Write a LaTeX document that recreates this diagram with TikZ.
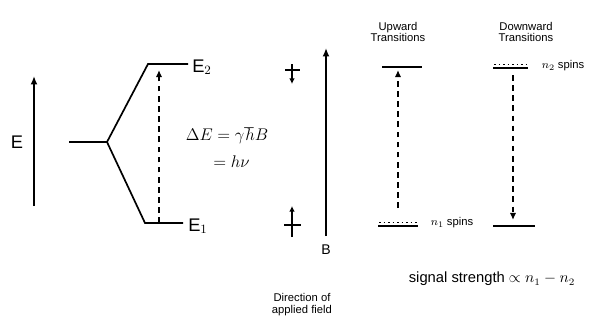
\documentclass[tikz,border=0pt]{standalone}
\usepackage{fontspec}
\setmainfont{Liberation Sans}
\usetikzlibrary{arrows.meta}
\tikzset{
    levelline/.style={line width=1.2pt},
    dotlevel/.style={line width=1.2pt, dotted},
    trans/.style={line width=1.2pt, dash pattern=on 4pt off 3.2pt, -{Latex[length=5pt,width=4.5pt]}},
    field/.style={line width=1.2pt, -{Latex[length=6pt,width=5pt]}},
    spinarr/.style={line width=1.4pt, -{Latex[length=4pt,width=4pt]}},
    smalltext/.style={font=\fontsize{8}{8.5}\selectfont, align=center, inner sep=0pt},
    bigtext/.style={font=\fontsize{13}{14}\selectfont, inner sep=0pt}
}
\begin{document}
\begin{tikzpicture}[x=0.025cm, y=-0.025cm]
    \useasboundingbox (0,0) rectangle (610,329);

    % Left diagram: splitting of the level
    \begin{scope}
        \coordinate (ebot) at (34,206);
        \coordinate (etop) at (34,76);
        \draw[field] (ebot) -- (etop);
        \node[bigtext] (elab) at (17,142) {E};

        \coordinate (lvl0) at (69,142);
        \coordinate (fork) at (107,142);
        \coordinate (up0) at (148,64);
        \coordinate (up1) at (188,64);
        \coordinate (lo0) at (145,223);
        \coordinate (lo1) at (183,223);
        \draw[levelline] (lvl0) -- (fork) -- (up0) -- (up1);
        \draw[levelline] (fork) -- (lo0) -- (lo1);
        \node[bigtext, anchor=west] (etwo) at (192,67) {E$_2$};
        \node[bigtext, anchor=west] (eone) at (188,226) {E$_1$};

        \coordinate (gapbot) at (159,223);
        \coordinate (gaptop) at (159,70);
        \draw[trans] (gapbot) -- (gaptop);

        \node[bigtext, font=\fontsize{12}{13}\selectfont] (delta) at (227,136) {$\Delta E = \gamma\hbar B$};
        \node[bigtext, font=\fontsize{12}{13}\selectfont, anchor=west] (hnu) at (213,162) {$= h\nu$};
    \end{scope}

    % Middle: spins and applied field
    \begin{scope}
        \draw[spinarr] (292,64) -- (292,84);
        \draw[line width=1.4pt] (285,70) -- (300,70);
        \draw[spinarr] (292,237) -- (292,206);
        \draw[line width=1.4pt] (284,225) -- (301,225);

        \coordinate (bbot) at (326,236);
        \coordinate (btop) at (326,48);
        \draw[field] (bbot) -- (btop);
        \node[bigtext, font=\fontsize{10}{11}\selectfont] (blab) at (326,250) {B};
        \node[smalltext] (dirlab) at (302,305) {Direction of\\applied field};
    \end{scope}

    % Right diagram: upward and downward transitions
    \begin{scope}
        \node[smalltext] (uplab) at (398,32) {Upward\\Transitions};
        \draw[levelline] (382,67) -- (422,67);
        \draw[levelline] (378,226) -- (418,226);
        \draw[dotlevel] (379,222.5) -- (417,222.5);
        \coordinate (ubot) at (398,208);
        \coordinate (utop) at (398,70);
        \draw[trans] (ubot) -- (utop);
        \node[smalltext] (none) at (452,223) {$n_1$ spins};

        \node[smalltext] (downlab) at (526,32) {Downward\\Transitions};
        \draw[levelline] (493,68) -- (528,68);
        \draw[dotlevel] (494,64.5) -- (527,64.5);
        \draw[levelline] (493,226) -- (535,226);
        \coordinate (dtop) at (513,75);
        \coordinate (dbot) at (513,220);
        \draw[trans] (dtop) -- (dbot);
        \node[smalltext] (ntwo) at (563,66) {$n_2$ spins};

        \node[smalltext, font=\fontsize{10.5}{11}\selectfont] (signal) at (492,279) {signal strength $\propto n_1 - n_2$};
    \end{scope}
\end{tikzpicture}
\end{document}
